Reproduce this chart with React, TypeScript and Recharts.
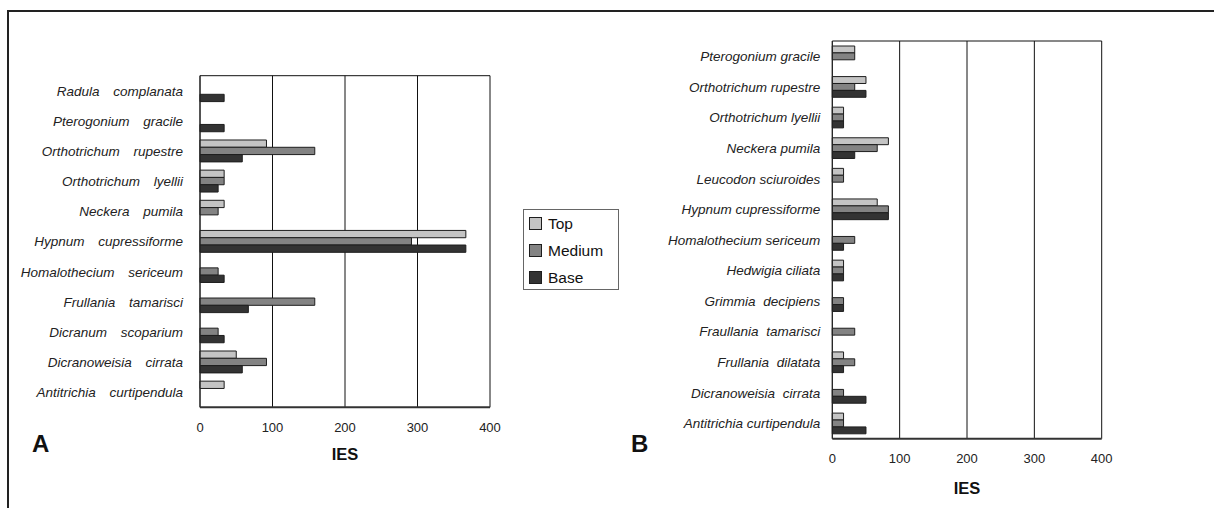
/**
 * Epiphyte IES by trunk height - two horizontal bar panels (A, B) sharing one legend
 */

import { BarChart, Bar, XAxis, YAxis, CartesianGrid, Label } from 'recharts'

// Panel A
const speciesA = [
  'Radula complanata',
  'Pterogonium gracile',
  'Orthotrichum rupestre',
  'Orthotrichum lyellii',
  'Neckera pumila',
  'Hypnum cupressiforme',
  'Homalothecium sericeum',
  'Frullania tamarisci',
  'Dicranum scoparium',
  'Dicranoweisia cirrata',
  'Antitrichia curtipendula',
]
const topA = [0, 0, 91.7, 33.3, 33.3, 366.7, 0, 0, 0, 50, 33.3]
const mediumA = [0, 0, 158.3, 33.3, 25, 291.7, 25, 158.3, 25, 91.7, 0]
const baseA = [33.3, 33.3, 58.3, 25, 0, 366.7, 33.3, 66.7, 33.3, 58.3, 0]

// Panel B
const speciesB = [
  'Pterogonium gracile',
  'Orthotrichum rupestre',
  'Orthotrichum lyellii',
  'Neckera pumila',
  'Leucodon sciuroides',
  'Hypnum cupressiforme',
  'Homalothecium sericeum',
  'Hedwigia ciliata',
  'Grimmia decipiens',
  'Fraullania tamarisci',
  'Frullania dilatata',
  'Dicranoweisia cirrata',
  'Antitrichia curtipendula',
]
const topB = [33.3, 50, 16.7, 83.3, 16.7, 66.7, 0, 16.7, 0, 0, 16.7, 0, 16.7]
const mediumB = [33.3, 33.3, 16.7, 66.7, 16.7, 83.3, 33.3, 16.7, 16.7, 33.3, 33.3, 16.7, 16.7]
const baseB = [0, 50, 16.7, 33.3, 0, 83.3, 16.7, 16.7, 16.7, 0, 16.7, 50, 50]

const xTicks = [0, 100, 200, 300, 400]
const seriesNames = ['Top', 'Medium', 'Base']

const FONT = '"Liberation Sans", Arial, Helvetica, sans-serif'
const COLORS = ['#c4c4c4', '#838383', '#333333']
const EDGE = '#1e1e1e'

// labels in B that were typeset with a slightly wider gap
const wideB = new Set(['Grimmia decipiens', 'Fraullania tamarisci', 'Frullania dilatata', 'Dicranoweisia cirrata'])

const build = (names: string[], top: number[], medium: number[], base: number[]) =>
  names.map((name, i) => ({ name, top: top[i], medium: medium[i], base: base[i] }))

const dataA = build(speciesA, topA, mediumA, baseA)
const dataB = build(speciesB, topB, mediumB, baseB)

const SpeciesTick = ({ x, y, payload, spacing }: any) => (
  <text
    x={x}
    y={y}
    dy="0.36em"
    textAnchor="end"
    fontFamily={FONT}
    fontSize={13.5}
    fontStyle="italic"
    fill="#222"
    style={{ wordSpacing: spacing }}
  >
    {payload.value}
  </text>
)

interface PanelProps {
  data: any[]
  width: number
  height: number
  margin: { top: number; right: number; left: number; bottom: number }
  yWidth: number
  labelGap: number
  barSize: number
  spacing: (name: string) => number
  iesOffset: number
}

function Panel({ data, width, height, margin, yWidth, labelGap, barSize, spacing, iesOffset }: PanelProps) {
  return (
    <BarChart width={width} height={height} data={data} layout="vertical" margin={margin} barGap={0}>
      <CartesianGrid horizontal={false} stroke="#111" />
      {/* top frame of the plot area */}
      <XAxis
        xAxisId="top"
        orientation="top"
        type="number"
        domain={[0, 400]}
        ticks={xTicks}
        height={1}
        tick={false}
        tickLine={false}
        axisLine={{ stroke: '#111' }}
      />
      <XAxis
        type="number"
        domain={[0, 400]}
        ticks={xTicks}
        height={60}
        tickLine={false}
        tickSize={0}
        tickMargin={15.5}
        axisLine={{ stroke: '#333', strokeWidth: 2 }}
        tick={{ fill: '#222', fontSize: 13, fontFamily: FONT }}
      >
        <Label
          value="IES"
          position="insideBottom"
          offset={iesOffset}
          fill="#111"
          fontSize={16.5}
          fontWeight="bold"
          fontFamily={FONT}
        />
      </XAxis>
      <YAxis
        type="category"
        dataKey="name"
        width={yWidth}
        interval={0}
        tickLine={false}
        tickSize={0}
        tickMargin={labelGap}
        axisLine={{ stroke: '#222' }}
        tick={(props: any) => <SpeciesTick {...props} spacing={spacing(props.payload.value)} />}
      />
      {['top', 'medium', 'base'].map((key, i) => (
        <Bar
          key={key}
          dataKey={key}
          name={seriesNames[i]}
          fill={COLORS[i]}
          stroke={EDGE}
          strokeWidth={1}
          barSize={barSize}
          isAnimationActive={false}
        />
      ))}
    </BarChart>
  )
}

export default function App() {
  return (
    <div
      style={{
        position: 'absolute',
        left: 0,
        top: 0,
        width: 1214,
        height: 508,
        background: '#fff',
        overflow: 'hidden',
        fontFamily: FONT,
      }}
    >
      {/* outer frame (top and left edges) */}
      <div style={{ position: 'absolute', left: 7, top: 10, right: 0, height: 2, background: '#222' }} />
      <div style={{ position: 'absolute', left: 7, top: 10, bottom: 0, width: 2, background: '#222' }} />

      <div style={{ position: 'absolute', left: 0, top: 0 }}>
        <Panel
          data={dataA}
          width={520}
          height={508}
          margin={{ top: 74.7, right: 30, left: 0, bottom: 508 - 407.3 - 60 }}
          yWidth={200}
          labelGap={17}
          barSize={7.3}
          spacing={() => 10}
          iesOffset={7}
        />
      </div>

      <div style={{ position: 'absolute', left: 620, top: 0 }}>
        <Panel
          data={dataB}
          width={500}
          height={508}
          margin={{ top: 40, right: 18.3, left: 0, bottom: 508 - 438.7 - 60 }}
          yWidth={212.3}
          labelGap={12}
          barSize={6.9}
          spacing={(name) => (wideB.has(name) ? 4 : 0)}
          iesOffset={4.7}
        />
      </div>

      <div style={{ position: 'absolute', left: 32, top: 430, fontSize: 24, fontWeight: 'bold', color: '#111' }}>A</div>
      <div style={{ position: 'absolute', left: 631, top: 430, fontSize: 24, fontWeight: 'bold', color: '#111' }}>B</div>

      {/* shared legend */}
      <div
        style={{
          position: 'absolute',
          left: 523,
          top: 209,
          width: 96,
          height: 81,
          border: '1px solid #666',
          boxSizing: 'border-box',
          padding: '0 0 0 5px',
        }}
      >
        {seriesNames.map((name, i) => (
          <div key={name} style={{ display: 'flex', alignItems: 'center', height: 27, fontSize: 15.5, color: '#111' }}>
            <span
              style={{
                display: 'inline-block',
                width: 11,
                height: 11,
                background: COLORS[i],
                border: `1px solid ${EDGE}`,
                marginRight: 6,
              }}
            />
            {name}
          </div>
        ))}
      </div>
    </div>
  )
}
